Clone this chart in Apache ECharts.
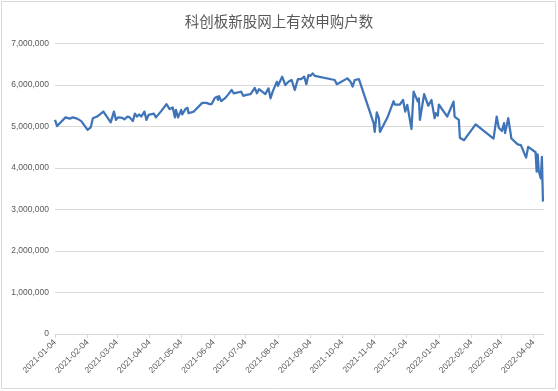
<!DOCTYPE html>
<html>
<head>
<meta charset="utf-8">
<script src="https://cdn.jsdelivr.net/npm/echarts@6/dist/echarts.min.js"></script>
<style>
html,body{margin:0;padding:0;background:#fff;}
#c{width:558px;height:391px;}
</style>
</head>
<body>
<div id="c"></div>
<script>
var titleText = '科创板新股网上有效申购户数';
var dates = ['2021-01-04','2021-01-06','2021-01-14','2021-01-18','2021-01-21','2021-01-25','2021-01-29','2021-02-04','2021-02-07','2021-02-09','2021-02-13','2021-02-19','2021-02-26','2021-03-01','2021-03-03','2021-03-05','2021-03-09','2021-03-11','2021-03-14','2021-03-16','2021-03-19','2021-03-21','2021-03-23','2021-03-25','2021-03-27','2021-03-30','2021-04-01','2021-04-03','2021-04-08','2021-04-10','2021-04-15','2021-04-20','2021-04-23','2021-04-26','2021-04-28','2021-04-29','2021-05-01','2021-05-04','2021-05-05','2021-05-08','2021-05-10','2021-05-11','2021-05-16','2021-05-19','2021-05-24','2021-05-28','2021-05-31','2021-06-02','2021-06-05','2021-06-07','2021-06-08','2021-06-09','2021-06-11','2021-06-15','2021-06-18','2021-06-21','2021-06-23','2021-06-24','2021-06-27','2021-06-30','2021-07-02','2021-07-05','2021-07-09','2021-07-13','2021-07-15','2021-07-17','2021-07-20','2021-07-23','2021-07-26','2021-07-28','2021-07-30','2021-08-03','2021-08-04','2021-08-08','2021-08-11','2021-08-14','2021-08-17','2021-08-20','2021-08-23','2021-08-26','2021-08-29','2021-08-31','2021-09-02','2021-09-04','2021-09-06','2021-09-08','2021-09-27','2021-09-29','2021-10-09','2021-10-12','2021-10-14','2021-10-16','2021-10-20','2021-11-03','2021-11-04','2021-11-06','2021-11-08','2021-11-09','2021-11-16','2021-11-22','2021-11-23','2021-11-28','2021-12-01','2021-12-03','2021-12-05','2021-12-09','2021-12-11','2021-12-15','2021-12-16','2021-12-17','2021-12-21','2021-12-25','2021-12-28','2021-12-31','2022-01-01','2022-01-03','2022-01-04','2022-01-07','2022-01-12','2022-01-18','2022-01-19','2022-01-23','2022-01-24','2022-01-28','2022-02-08','2022-02-25','2022-02-28','2022-03-02','2022-03-05','2022-03-07','2022-03-08','2022-03-11','2022-03-14','2022-03-20','2022-03-23','2022-03-28','2022-03-30','2022-04-06','2022-04-07','2022-04-08','2022-04-09','2022-04-11','2022-04-12','2022-04-13'];
var values = [5160000,5010000,5220000,5190000,5220000,5190000,5130000,4920000,4980000,5200000,5240000,5360000,5100000,5360000,5160000,5220000,5210000,5170000,5240000,5220000,5130000,5310000,5240000,5290000,5240000,5360000,5160000,5280000,5310000,5220000,5370000,5540000,5420000,5460000,5220000,5400000,5220000,5400000,5290000,5420000,5450000,5320000,5360000,5440000,5570000,5570000,5540000,5540000,5690000,5720000,5640000,5730000,5610000,5690000,5780000,5880000,5800000,5840000,5820000,5840000,5740000,5760000,5780000,5930000,5800000,5900000,5840000,5780000,5920000,5680000,5840000,6080000,5980000,6200000,6000000,6080000,6120000,5880000,6140000,6140000,6200000,6020000,6240000,6220000,6280000,6220000,6120000,6020000,6160000,6080000,5960000,6120000,6140000,5080000,4870000,5340000,5200000,4870000,5210000,5610000,5530000,5530000,5640000,5360000,5520000,4940000,5840000,5600000,5680000,5160000,5780000,5500000,5640000,5200000,5320000,5260000,5530000,5420000,5240000,5600000,5240000,5160000,4730000,4670000,5050000,4710000,5240000,4970000,4890000,5080000,4840000,5200000,4710000,4570000,4550000,4250000,4510000,4380000,3910000,4330000,3930000,3750000,4270000,3190000];
var xTickDates = ['2021-01-04','2021-02-04','2021-03-04','2021-04-04','2021-05-04','2021-06-04','2021-07-04','2021-08-04','2021-09-04','2021-10-04','2021-11-04','2021-12-04','2022-01-04','2022-02-04','2022-03-04','2022-04-04'];
var xMinDate = '2021-01-04';
var xMaxDate = '2022-04-14';
var yMin = 0, yMax = 7000000, yStep = 1000000;

function ts(s){ return Date.parse(s + 'T00:00:00Z'); }
function pad(n){ return (n < 10 ? '0' : '') + n; }
function fmt(t){ var d = new Date(t); return d.getUTCFullYear() + '-' + pad(d.getUTCMonth()+1) + '-' + pad(d.getUTCDate()); }

var seriesData = dates.map(function(d, i){ return [ts(d), values[i]]; });
var tickVals = xTickDates.map(ts);

var chart = echarts.init(document.getElementById('c'), null, {renderer: 'canvas'});
chart.setOption({
  animation: false,
  backgroundColor: '#fff',
  title: {
    text: titleText,
    left: 'center',
    top: 9,
    textStyle: {fontFamily: 'Noto Sans CJK SC', fontWeight: 'normal', fontSize: 14.5, color: '#595959'}
  },
  graphic: [{
    type: 'rect', silent: true,
    shape: {x: 1.5, y: 1.5, width: 554, height: 387},
    style: {fill: 'none', stroke: '#d9d9d9', lineWidth: 1}
  }],
  grid: {left: 55, right: 14, top: 43.5, bottom: 57, containLabel: false},
  xAxis: {
    type: 'value',
    min: ts(xMinDate),
    max: ts(xMaxDate),
    axisLine: {show: true, lineStyle: {color: '#d9d9d9', width: 1}},
    axisTick: {show: true, customValues: tickVals, length: 4, lineStyle: {color: '#d9d9d9'}},
    splitLine: {show: false},
    axisLabel: {
      customValues: tickVals,
      rotate: 45,
      margin: 7,
      fontFamily: 'Liberation Sans',
      fontSize: 8.5,
      color: '#595959',
      formatter: function(v){ return fmt(v); }
    }
  },
  yAxis: {
    type: 'value',
    min: yMin, max: yMax, interval: yStep,
    axisLine: {show: false},
    axisTick: {show: false},
    splitLine: {show: true, lineStyle: {color: '#d9d9d9', width: 1}},
    axisLabel: {
      margin: 6,
      fontFamily: 'Liberation Sans',
      fontSize: 8.5,
      color: '#595959',
      formatter: function(v){ return v.toLocaleString('en-US'); }
    }
  },
  series: [{
    type: 'line',
    data: seriesData,
    showSymbol: false,
    symbol: 'none',
    lineStyle: {color: '#3f74b9', width: 2.25, join: 'round'},
    itemStyle: {color: '#3f74b9'}
  }]
});
</script>
</body>
</html>
